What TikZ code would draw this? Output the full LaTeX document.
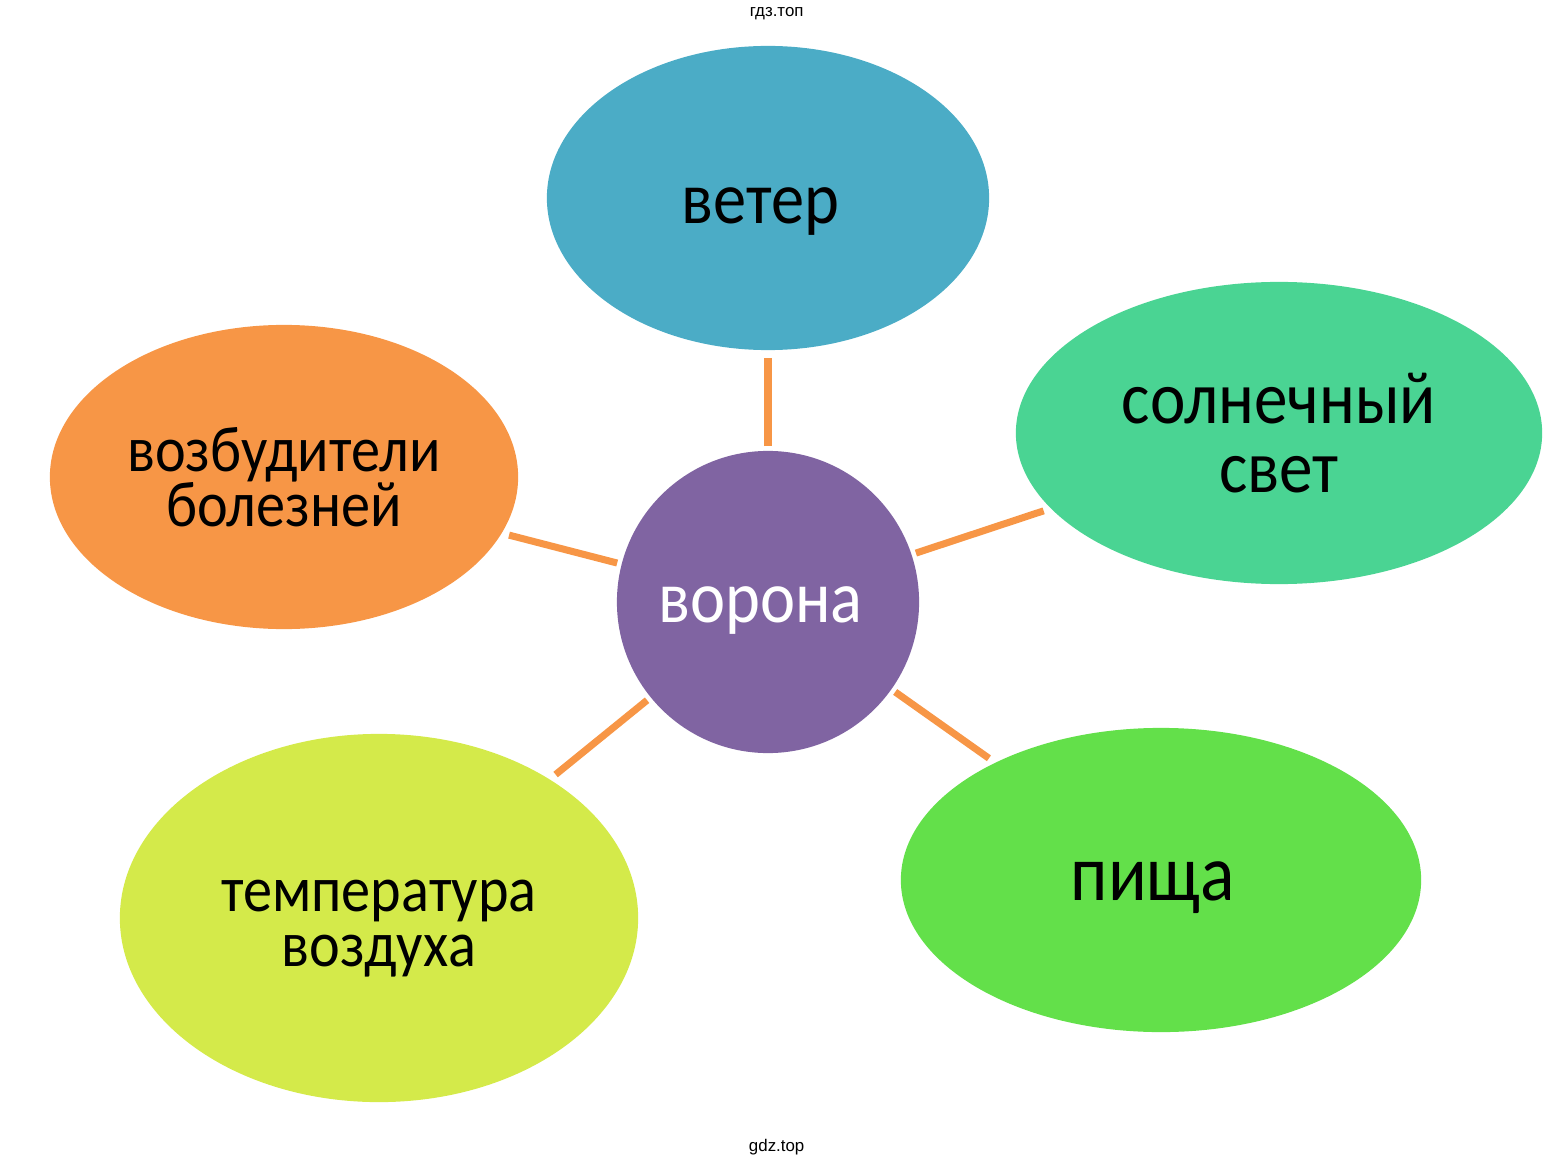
\documentclass[tikz,border=0pt]{standalone}
\usepackage{fontspec}
\setmainfont{Carlito}[FakeStretch = 0.9]
\newfontfamily\markfont{Liberation Sans}
\usetikzlibrary{shapes.geometric}

\definecolor{windblue}{HTML}{4BACC6}
\definecolor{sungreen}{HTML}{4AD493}
\definecolor{germorange}{HTML}{F79646}
\definecolor{crowviolet}{HTML}{8064A2}
\definecolor{airlime}{HTML}{D4EA4A}
\definecolor{foodgreen}{HTML}{63E04A}
\definecolor{linkorange}{HTML}{F79646}

\begin{document}
\begin{tikzpicture}[x = 0.01cm, y = -0.01cm,
  every node/.style = { align = center, inner sep = 0pt },
  bubble/.style = { shape = ellipse, fill = #1 },
  link/.style = { draw = linkorange, line width = 2pt, shorten <= 0.04cm, shorten >= 0.07cm }]
  \useasboundingbox (0,0) rectangle (1561,1167);
  \node (crow) [bubble = crowviolet, shape = circle, minimum size = 3.02cm, text = white,
    font = \fontsize{21}{21}\selectfont, text height = 0.4cm, text depth = 0pt] at (768,602) { ворона };
  \node (wind) [bubble = windblue, minimum width = 4.42cm, minimum height = 3.04cm,
    font = \fontsize{21}{21}\selectfont, text height = 0.5cm, text depth = 0pt] at (768,198) { ветер };
  \node (sun) [bubble = sungreen, minimum width = 5.26cm, minimum height = 3.02cm,
    font = \fontsize{21.2}{19.6}\selectfont] at (1279,433) { солнечный \\ свет };
  \node (germs) [bubble = germorange, minimum width = 4.68cm, minimum height = 3.04cm,
    font = \fontsize{18.4}{15.8}\selectfont] at (284,477) { возбудители \\ болезней };
  \node (air) [bubble = airlime, minimum width = 5.18cm, minimum height = 3.68cm,
    font = \fontsize{18.4}{15.6}\selectfont] at (379,918) { \rule{0pt}{0.52cm}температура \\ воздуха };
  \node (food) [bubble = foodgreen, minimum width = 5.20cm, minimum height = 3.04cm,
    font = \fontsize{22.7}{22.7}\selectfont, text height = 0.4cm, text depth = 0pt] at (1161,880) { пища };
  \foreach \other in {wind,sun,germs,air,food}
    \draw [link] (crow) -- (\other);
  \node (marktop) [font = \markfont\fontsize{4.8}{5}\selectfont] at (779,14) { гдз.топ };
  \node (markbottom) [font = \markfont\fontsize{4.8}{5}\selectfont] at (779,1147) { gdz.top };
\end{tikzpicture}
\end{document}
